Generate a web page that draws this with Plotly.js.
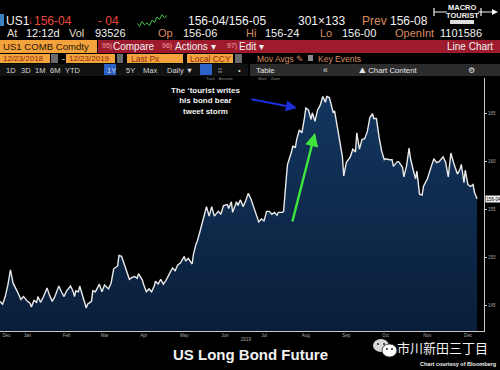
<!DOCTYPE html>
<html><head><meta charset="utf-8">
<script src="https://cdn.plot.ly/plotly-3.0.1.min.js"></script>
<style>html,body{margin:0;padding:0;background:#000;}#chart{width:500px;height:370px;}</style>
</head><body><div id="chart"></div>
<script>
// ---------------- DATA ----------------
const dates = ['2018-12-23','2018-12-25','2018-12-27','2018-12-29','2018-12-31','2019-01-02','2019-01-05','2019-01-08','2019-01-10','2019-01-13',
'2019-01-15','2019-01-16','2019-01-18','2019-01-20','2019-01-21','2019-01-23','2019-01-25','2019-01-28','2019-01-30','2019-02-01',
'2019-02-03','2019-02-06','2019-02-08','2019-02-10','2019-02-12','2019-02-15','2019-02-17','2019-02-18','2019-02-19','2019-02-21',
'2019-02-22','2019-02-24','2019-02-27','2019-02-28','2019-03-03','2019-03-04','2019-03-06','2019-03-09','2019-03-11','2019-03-13',
'2019-03-16','2019-03-18','2019-03-20','2019-03-23','2019-03-24','2019-03-26','2019-03-28','2019-03-30','2019-04-01','2019-04-03',
'2019-04-05','2019-04-07','2019-04-08','2019-04-11','2019-04-12','2019-04-14','2019-04-16','2019-04-18','2019-04-20','2019-04-21',
'2019-04-23','2019-04-25','2019-04-27','2019-04-29','2019-05-01','2019-05-04','2019-05-06','2019-05-08','2019-05-10','2019-05-13',
'2019-05-14','2019-05-16','2019-05-19','2019-05-20','2019-05-22','2019-05-23','2019-05-25','2019-05-27','2019-05-30','2019-06-01',
'2019-06-03','2019-06-05','2019-06-08','2019-06-10','2019-06-12','2019-06-15','2019-06-16','2019-06-18','2019-06-19','2019-06-22',
'2019-06-23','2019-06-25','2019-06-27','2019-06-29','2019-07-01','2019-07-03','2019-07-05','2019-07-07','2019-07-09','2019-07-11',
'2019-07-13','2019-07-15','2019-07-17','2019-07-19','2019-07-21','2019-07-23','2019-07-24','2019-07-27','2019-07-28','2019-07-30',
'2019-07-31','2019-08-03','2019-08-04','2019-08-06','2019-08-07','2019-08-09','2019-08-11','2019-08-13','2019-08-14','2019-08-16',
'2019-08-18','2019-08-19','2019-08-21','2019-08-23','2019-08-25','2019-08-27','2019-08-29','2019-08-30','2019-09-01','2019-09-04',
'2019-09-05','2019-09-07','2019-09-09','2019-09-11','2019-09-12','2019-09-14','2019-09-17','2019-09-19','2019-09-21','2019-09-22',
'2019-09-24','2019-09-26','2019-09-28','2019-09-30','2019-10-02','2019-10-04','2019-10-05','2019-10-07','2019-10-09','2019-10-11',
'2019-10-13','2019-10-14','2019-10-17','2019-10-19','2019-10-20','2019-10-23','2019-10-24','2019-10-27','2019-10-28','2019-10-30',
'2019-11-01','2019-11-02','2019-11-04','2019-11-06','2019-11-07','2019-11-09','2019-11-11','2019-11-12','2019-11-15','2019-11-16',
'2019-11-18','2019-11-20','2019-11-22','2019-11-24','2019-11-27','2019-11-29','2019-12-01','2019-12-03','2019-12-05','2019-12-08',
'2019-12-10','2019-12-11','2019-12-13','2019-12-14','2019-12-16','2019-12-18','2019-12-20','2019-12-21','2019-12-23'];

const prices = [145.4,145.1,145.9,147.1,148.7,147.3,146.5,145.6,145.9,145.4,
145.2,144.8,145.5,145.3,145.9,145.3,145.8,146.8,146.0,145.4,
145.9,147.0,146.4,145.9,146.5,147.0,146.4,145.9,146.5,146.4,
147.0,146.0,144.7,145.1,145.4,146.5,146.4,147.2,146.4,147.1,
146.7,147.3,148.8,149.1,150.2,150.1,149.3,148.3,147.7,147.9,
148.0,147.8,148.3,147.6,147.1,146.4,146.7,146.4,147.0,147.5,
147.2,147.7,147.2,147.6,148.1,148.9,148.6,149.2,149.4,150.1,
149.6,149.9,149.3,150.3,151.4,151.7,152.7,153.7,155.3,154.3,
155.3,154.3,154.8,154.5,155.4,155.5,155.1,155.8,154.7,155.8,
155.4,156.0,155.3,155.9,156.7,156.1,155.3,154.5,153.7,154.0,
153.8,154.8,154.8,154.5,154.7,154.4,154.7,154.7,154.8,158.2,
159.7,161.0,161.6,161.5,162.3,163.3,163.0,164.6,165.6,165.4,
164.4,165.1,164.2,165.4,165.9,166.8,166.2,166.8,166.7,165.1,
165.3,163.7,162.1,160.5,158.5,159.9,160.5,161.3,161.0,163.0,
161.3,162.3,162.4,163.1,164.6,165.0,164.5,164.5,162.6,161.1,
160.2,160.3,160.2,160.2,159.5,160.0,160.0,159.4,158.4,159.5,
161.4,160.4,159.2,158.2,159.0,156.6,156.5,157.4,158.2,158.7,
159.5,160.3,159.9,160.0,160.5,159.9,158.4,160.9,159.9,158.7,
159.2,159.7,157.8,159.1,157.6,157.4,157.6,156.8,156.13];

const monthTickDates = ['2018-12-28','2019-01-13','2019-02-12','2019-03-13','2019-04-12','2019-05-13','2019-06-13','2019-07-13','2019-08-14','2019-09-14','2019-10-14','2019-11-15','2019-12-16'];
const monthTickLabels = ['Dec','Jan','Feb','Mar','Apr','May','Jun','Jul','Aug','Sep','Oct','Nov','Dec'];
const priceTicks = [145,150,155,160,165];
const priceTickLabels = ['145','150','155','160','165'];
const lastPriceLabel = '156-04';
const sparkValues = [3,2.2,3.4,2.6,3.1,2.4,3.8,3.2,4.6,4.0,5.2,4.4,5.0];

// ---------------- LAYOUT HELPERS ----------------
const W = 500, H = 370;
const FF = 'Liberation Sans, Arial, sans-serif';
const A = [];
const S = [];
function px(x){return x/W;}
function py(y){return 1-y/H;}
function txt(t,x,y,size,color,opt){
  A.push(Object.assign({text:t,xref:'paper',yref:'paper',x:px(x),y:py(y),xanchor:'left',yanchor:'middle',
    showarrow:false,borderpad:0,font:{family:FF,size:size,color:color}},opt||{}));
}
function rect(x0,y0,x1,y1,fill,opt){
  S.push(Object.assign({type:'rect',xref:'paper',yref:'paper',x0:px(x0),x1:px(x1),y0:py(y1),y1:py(y0),
    fillcolor:fill,line:{width:0},layer:'above'},opt||{}));
}
function line(x0,y0,x1,y1,color,w){
  S.push({type:'line',xref:'paper',yref:'paper',x0:px(x0),x1:px(x1),y0:py(y0),y1:py(y1),line:{color:color,width:w||1},layer:'above'});
}
function circ(x0,y0,x1,y1,fill,lc){
  S.push({type:'circle',xref:'paper',yref:'paper',x0:px(x0),x1:px(x1),y0:py(y1),y1:py(y0),fillcolor:fill,line:{width:lc?0.8:0,color:lc||fill},layer:'above'});
}

const LBL = '#d98c62', WHITE='#f2f2f2', RED='#e8463c';
// Row 1
rect(0,14,4,26,'#3b82c4');
txt('US1',5,21,12,WHITE);
txt('↓',27,21,10,RED);
txt('156-04',33,21,12,RED);
txt('- 04',97,21,12,RED);
txt('156-04/156-05',187,21,12,WHITE);
txt('301×133',297,21,12,WHITE);
txt('Prev',361,21,12,LBL);
txt('156-08',389,21,12,WHITE);
// logo
txt('<b>MACRO</b>',462,7.5,7.5,WHITE,{xanchor:'center'});
txt('<b>TOURIST</b>',462,15,7.5,WHITE,{xanchor:'center'});
rect(450,20,474,24,'#dddddd');
line(434,12,447,12,WHITE,1); line(434,8,434,16,WHITE,1.2);
line(478,12,494,12,WHITE,1); line(481,8,481,16,WHITE,1.2);
S.push({type:'path',xref:'paper',yref:'paper',path:'M '+px(492)+' '+py(9)+' L '+px(498)+' '+py(12)+' L '+px(492)+' '+py(15)+' Z',fillcolor:WHITE,line:{width:0},layer:'above'});
// Row 2
txt('At',6,33,11,'#e6dccb');
txt('12:12d',25,33,11,WHITE);
txt('Vol',68,33,11,'#e6dccb');
txt('93526',94,33,11,WHITE);
txt('Op',157,33,11,LBL);
txt('156-06',182,33,11,WHITE);
txt('Hi',245,33,11,LBL);
txt('156-24',264,33,11,WHITE);
txt('Lo',319,33,11,LBL);
txt('156-00',341,33,11,WHITE);
txt('OpenInt',394,33,11,LBL);
txt('1101586',439,33,11,WHITE);
// Row 3
rect(0,40,97,53,'#f4a23c');
rect(98,40,500,53,'#9e1b2d');
txt('US1 COMB Comdty',2,46.5,9.6,'#2a1406');
txt('95)',101,46.5,7,'#f3a3a8');
txt('Compare',112,46.5,10,WHITE);
txt('96)',161,46.5,7,'#f3a3a8');
txt('Actions ▾',174,46.5,10,WHITE);
txt('97)',226,46.5,7,'#f3a3a8');
txt('Edit ▾',238,46.5,10,WHITE);
txt('Line Chart',494,46.5,10,WHITE,{xanchor:'right'});
// Row 4
rect(0,54,50,63,'#f4a23c'); rect(51,54,58,63,'#6a6a6a');
txt('12/23/2018',1.5,58.5,8,'#8c2a14');
txt('-',61,58.5,9,WHITE);
rect(66,54,115,63,'#f4a23c'); rect(117,54,123,63,'#6a6a6a');
txt('12/23/2019',67.5,58.5,8,'#8c2a14');
rect(127,54,183,63,'#f4a23c');
txt('Last Px',130,58.5,8.5,'#8c2a14');
rect(187,54,233,63,'#f4a23c'); rect(235,54,242,63,'#6a6a6a');
txt('Local CCY',189,58.5,8.5,'#8c2a14');
txt('Mov Avgs ✎',256,58.5,8.5,LBL);
rect(308,55,313,61,'#8a8a8a');
txt('Key Events',317,58.5,8.5,LBL);
// Row 5
rect(0,64,248,76,'#121212');
rect(250,64,500,76,'#2c2c2c');
rect(104,64,116,75,'#2a62c8');
rect(200,64,212,75,'#2a62c8');
const periods = [['1D',5],['3D',20],['1M',34],['6M',49],['YTD',64],['1Y',106],['5Y',125],['Max',142],['Daily ▼',166]];
periods.forEach(p=>txt(p[0],p[1],70,7.5,'#d6d6d6'));
txt('⁞⁞',217,70,7.5,'#d6d6d6');
txt('•',237,70,7.5,'#d6d6d6');
txt('Table',255,70,7.8,'#e6e6e6');
txt('«',322,70,8.5,'#e6e6e6');
txt('⛰ Chart Content',358,70,7.8,'#e6e6e6');
txt('⚙',467,70,8,'#e6e6e6');
txt('▫ Track  ▫ Annotate',203,79,3.5,'#888');
txt('▫ Move  ▫ Zoom',255,79,3.5,'#888');
// annotation text & arrows
txt('<b>The ‘tourist writes<br>his bond bear<br>tweet storm</b>',205,100.5,8,WHITE,{xanchor:'center',align:'center'});
A.push({xref:'paper',yref:'paper',x:px(297),y:py(108),ax:-47,ay:-9,text:'',showarrow:true,arrowhead:2,arrowsize:1.1,arrowwidth:2,arrowcolor:'#1c2fd8'});
A.push({xref:'paper',yref:'paper',x:px(315),y:py(133),ax:-23,ay:90,text:'',showarrow:true,arrowhead:2,arrowsize:1.1,arrowwidth:2.4,arrowcolor:'#3ee63e'});
// axis extra labels
txt('2019',246,339,4.5,'#aaaaaa',{xanchor:'center'});
A.push({xref:'paper',yref:'y',x:px(485),y:prices[prices.length-1],text:lastPriceLabel,xanchor:'left',yanchor:'middle',showarrow:false,
  bgcolor:'#eeeeee',borderpad:0.5,font:{family:FF,size:4.5,color:'#000'}});
// bottom texts
txt('<b>US Long Bond Future</b>',250,354,15,WHITE,{xanchor:'center'});
circ(373,339,389,352,'#d8d8d8');
circ(382,344,397,357,'#ffffff','#222');
circ(377,343,379,345,'#222'); circ(383,343,385,345,'#222');
circ(386,348,388,350,'#222'); circ(391,348,393,350,'#222');
txt('市川新田三丁目',396,347,13,WHITE,{font:{family:'Noto Sans CJK SC',size:13,color:WHITE}});
txt('<b>Chart courtesy of Bloomberg</b>',497,364,5.5,WHITE,{xanchor:'right'});

// ---------------- TRACES ----------------
const traces = [
  {x:dates,y:prices,type:'scatter',mode:'lines',fill:'tozeroy',
   fillcolor:'#0e2a4d',
   fillgradient:{type:'vertical',start:142.3,stop:167,colorscale:[[0,'#0a1e3a'],[1,'#13365f']]},
   line:{color:'#e9e9e9',width:1.4},hoverinfo:'skip'},
  {y:sparkValues,type:'scatter',mode:'lines',xaxis:'x2',yaxis:'y2',line:{color:'#3fc24a',width:1},hoverinfo:'skip'}
];

const layout = {
  width:W,height:H,margin:{l:0,r:0,t:0,b:0},
  paper_bgcolor:'#000',plot_bgcolor:'#000',showlegend:false,
  xaxis:{type:'date',domain:[0,0.968],range:['2018-12-23','2019-12-28 08:00'],
    showgrid:false,zeroline:false,showline:true,linecolor:'#c8c8c8',linewidth:1,
    tickvals:monthTickDates,ticktext:monthTickLabels,ticks:'',ticklabeloverflow:'allow',
    tickfont:{family:FF,size:4.5,color:'#aaaaaa'},fixedrange:true},
  yaxis:{domain:[1-331/370,1-78/370],range:[142.303,168.734],side:'right',
    showgrid:false,zeroline:false,showline:true,linecolor:'#c8c8c8',linewidth:1,
    tickvals:priceTicks,ticktext:priceTickLabels,ticks:'outside',ticklen:2,tickcolor:'#c8c8c8',
    tickfont:{family:FF,size:4.5,color:'#aaaaaa'},fixedrange:true},
  xaxis2:{domain:[137/500,167/500],anchor:'y2',visible:false},
  yaxis2:{domain:[1-27/370,1-14/370],anchor:'x2',visible:false},
  shapes:S,annotations:A
};

Plotly.newPlot('chart',traces,layout,{staticPlot:true,displayModeBar:false});
</script></body></html>
